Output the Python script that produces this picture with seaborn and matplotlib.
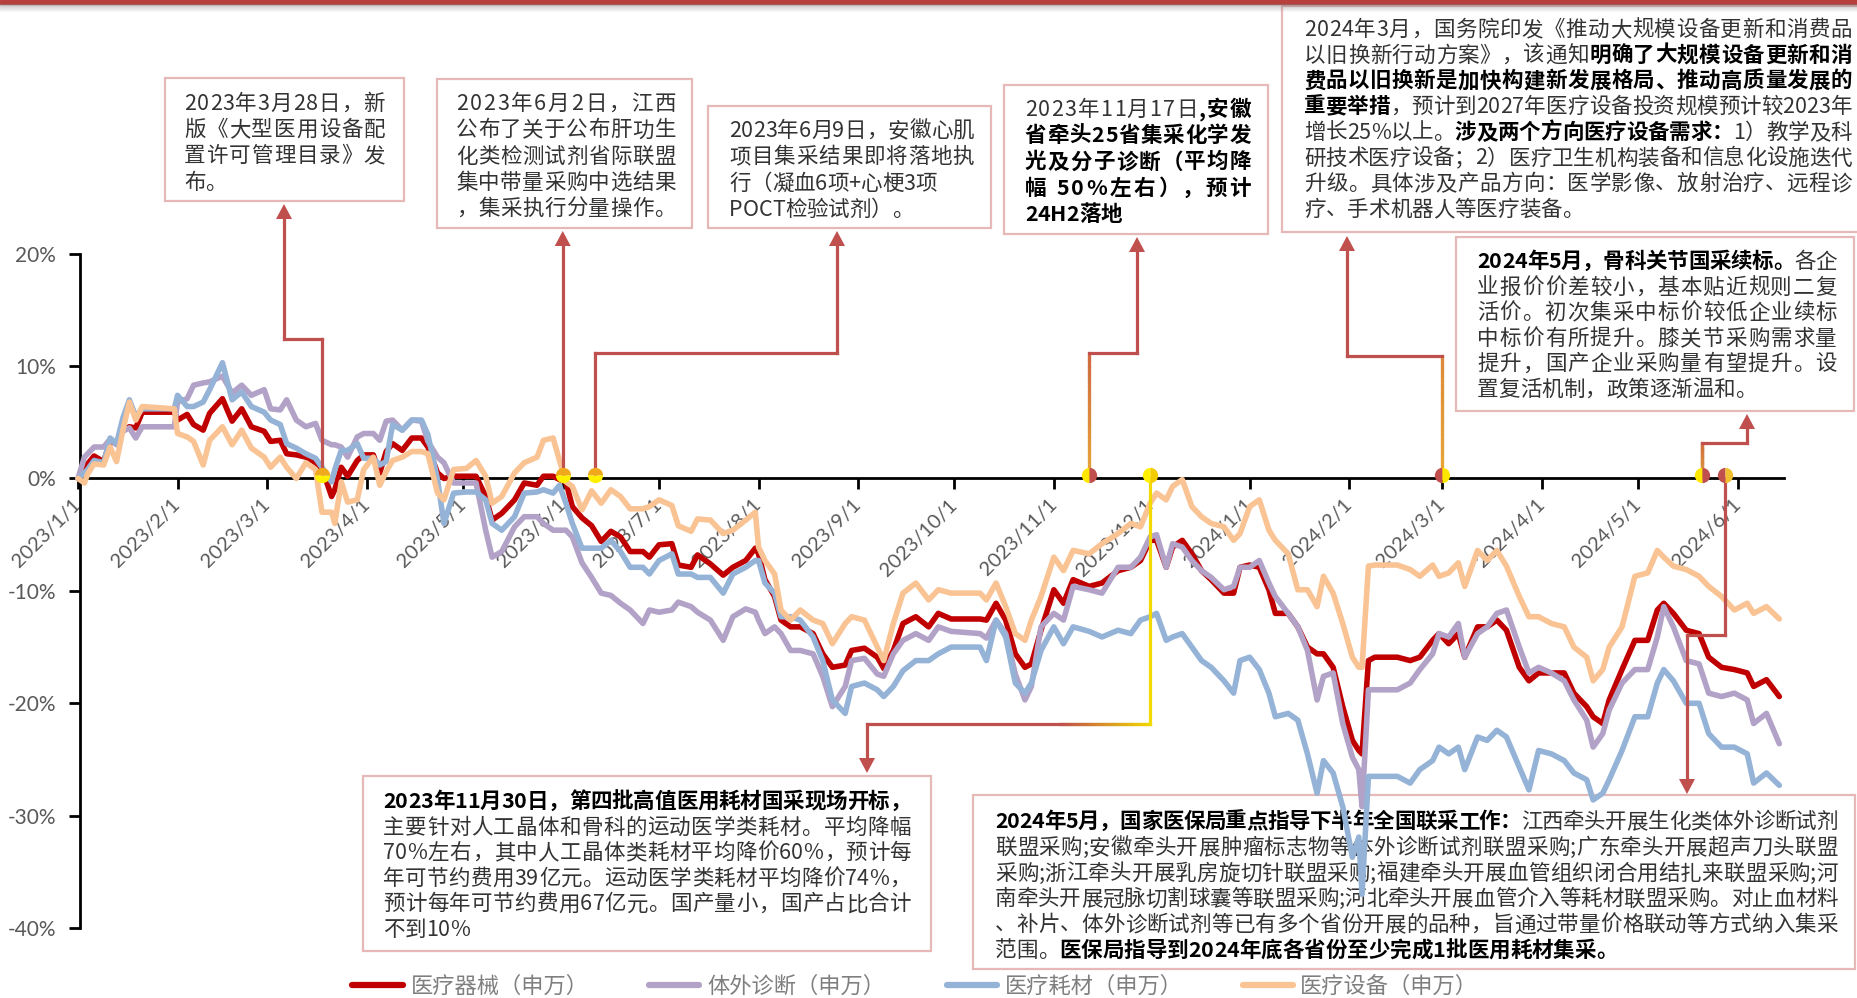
import numpy as np
import pandas as pd
import matplotlib
matplotlib.use("Agg")
import matplotlib.pyplot as plt
import matplotlib.dates as mdates
import matplotlib.transforms as mtransforms
from matplotlib.patches import Rectangle, Polygon
from matplotlib.collections import LineCollection
from matplotlib.font_manager import FontProperties
from matplotlib.colors import to_rgb
import seaborn as sns

# ---------------- data: cumulative change since 2023-01-01 (%) ----------------
day_offset = [0, 2, 3, 5, 8, 10, 12, 14, 16, 18, 20, 30, 31, 34, 36, 39, 41, 45, 48, 51,
              54, 58, 60, 63, 65, 68, 71, 74, 76, 79, 80, 82, 84, 87, 89, 92, 94, 96, 98, 101,
              104, 107, 109, 112, 114, 117, 121, 124, 127, 129, 132, 136, 139, 143, 145, 148, 150, 152, 154, 157,
              160, 163, 166, 169, 172, 176, 178, 181, 185, 187, 191, 193, 197, 201, 204, 208, 211, 212, 214, 217,
              219, 222, 225, 229, 232, 235, 239, 241, 245, 249, 251, 254, 257, 261, 265, 268, 272, 281, 283, 286,
              289, 292, 295, 297, 300, 304, 307, 310, 315, 319, 324, 328, 331, 334, 336, 339, 341, 344, 347, 350,
              353, 357, 360, 362, 365, 368, 371, 373, 377, 380, 383, 386, 388, 391, 394, 397, 399, 400, 402, 404,
              411, 415, 418, 422, 424, 427, 430, 432, 436, 439, 442, 445, 449, 452, 455, 459, 463, 466, 470, 472,
              475, 477, 481, 485, 489, 492, 494, 497, 501, 505, 508, 512, 516, 520, 522, 526, 530]

med_device = [0.0, 0.6, 1.3, 2.0, 1.5, 3.3, 3.1, 4.3, 4.6, 4.5, 5.9, 5.9, 5.2, 5.7, 4.8, 4.3, 5.8, 7.1, 5.1, 6.2,
              4.6, 4.2, 3.3, 3.4, 2.2, 2.1, 1.9, 1.4, 0.9, -1.6, -1.0, 1.0, 0.2, 1.6, 2.1, 2.1, 0.5, 2.4, 3.1, 2.5,
              3.6, 3.6, 2.8, 0.5, 0.0, 0.2, 0.2, 0.2, -1.6, -3.7, -3.1, -1.9, -0.4, -0.6, 0.2, 0.2, -0.1, -0.3, -2.5, -3.5,
              -4.2, -5.6, -4.7, -5.2, -6.5, -6.5, -7.0, -5.9, -5.8, -7.7, -7.9, -6.8, -7.6, -8.6, -7.9, -7.3, -6.2, -6.7, -9.0, -10.5,
              -12.6, -13.2, -13.2, -13.8, -15.6, -16.8, -16.6, -15.3, -15.1, -15.9, -16.9, -15.3, -12.9, -12.3, -13.2, -12.0, -12.5, -12.5, -12.6, -11.1,
              -12.6, -15.6, -16.8, -16.5, -13.5, -9.9, -11.1, -9.0, -9.6, -9.3, -8.2, -7.9, -7.3, -5.5, -5.5, -7.9, -6.1, -5.5, -6.7, -8.2,
              -9.0, -10.2, -10.2, -7.9, -7.7, -7.9, -9.9, -12.0, -12.0, -13.2, -15.0, -15.6, -15.6, -16.8, -20.3, -23.3, -24.2, -24.5, -16.2, -15.9,
              -15.9, -16.2, -15.9, -14.4, -13.8, -14.7, -13.8, -15.9, -13.2, -13.2, -12.6, -13.5, -16.8, -18.0, -17.3, -17.3, -17.3, -19.1, -20.3, -21.2,
              -21.8, -19.7, -17.0, -14.4, -14.4, -11.7, -11.1, -12.0, -13.5, -13.8, -15.9, -16.8, -17.0, -17.3, -18.5, -17.9, -19.4]

ivd = [0.0, 1.9, 2.2, 2.8, 2.8, 3.5, 3.0, 4.2, 4.5, 3.6, 4.6, 4.6, 6.8, 7.1, 8.3, 8.5, 8.6, 9.1, 7.6, 8.3,
       7.4, 7.9, 6.2, 6.1, 7.0, 5.2, 4.6, 4.9, 3.4, 3.0, 3.0, 2.8, 1.9, 3.7, 4.0, 4.0, 3.4, 5.1, 5.2, 4.3,
       5.2, 5.1, 3.3, 1.9, 1.4, -0.4, -0.4, -0.4, -4.6, -7.0, -6.5, -4.3, -3.4, -3.4, -4.0, -4.6, -4.6, -4.6, -5.2, -7.5,
       -8.8, -10.2, -10.4, -11.1, -11.7, -12.9, -11.7, -11.9, -11.7, -11.0, -11.4, -11.9, -12.6, -14.4, -12.3, -11.6, -11.9, -12.6, -13.8, -13.2,
       -13.8, -15.3, -15.3, -15.6, -17.6, -20.3, -18.5, -16.2, -16.0, -17.4, -17.6, -15.6, -14.4, -13.8, -14.4, -13.2, -13.6, -13.8, -14.2, -12.6,
       -13.8, -17.4, -19.7, -18.5, -13.2, -12.0, -12.6, -9.6, -9.9, -10.2, -7.9, -7.9, -7.0, -5.2, -5.0, -7.9, -5.8, -6.1, -7.3, -8.2,
       -8.8, -9.9, -9.6, -7.9, -7.9, -7.3, -9.3, -10.5, -12.0, -13.2, -15.3, -19.7, -17.6, -17.3, -21.8, -24.8, -25.9, -29.2, -18.8, -18.8,
       -18.8, -18.2, -17.0, -15.6, -13.8, -14.1, -12.9, -15.9, -13.8, -13.2, -12.0, -11.7, -15.0, -17.3, -16.8, -17.3, -18.0, -19.7, -21.5, -23.9,
       -22.7, -20.6, -18.2, -17.0, -17.0, -14.1, -11.4, -13.2, -16.2, -16.5, -19.1, -19.4, -19.1, -19.7, -21.8, -20.9, -23.6]

consumables = [0.0, 0.5, 0.8, 1.6, 1.4, 3.6, 3.1, 5.4, 7.0, 5.5, 6.2, 6.2, 7.4, 6.4, 6.4, 6.8, 7.9, 10.3, 7.0, 7.7,
               6.4, 5.9, 5.2, 4.8, 3.1, 2.7, 2.2, 1.8, 1.0, -0.3, 0.8, 2.5, 2.5, 3.1, 1.8, 1.8, 1.2, 1.5, 4.8, 4.3,
               5.2, 5.2, 3.9, -0.1, -4.0, -1.3, -1.2, -1.2, -1.9, -4.0, -4.6, -3.4, -1.3, -1.2, -1.0, -1.3, -0.6, -2.2, -4.0, -6.2,
               -6.2, -6.2, -5.5, -6.5, -7.9, -7.9, -8.5, -7.3, -6.7, -8.5, -8.5, -8.8, -8.8, -10.2, -8.5, -7.9, -7.3, -7.3, -9.3, -10.2,
               -12.3, -12.3, -12.6, -14.1, -16.2, -19.7, -20.9, -18.5, -18.2, -18.8, -19.4, -18.5, -17.1, -16.2, -16.2, -15.6, -15.0, -15.0, -16.2, -12.6,
               -14.1, -18.2, -19.1, -18.2, -15.3, -13.2, -14.7, -13.2, -13.6, -14.1, -13.5, -13.8, -12.6, -12.3, -12.0, -14.4, -14.1, -13.8, -15.0, -16.2,
               -16.8, -18.0, -19.1, -16.2, -15.9, -17.0, -19.1, -21.2, -20.9, -21.5, -24.5, -28.0, -25.1, -26.2, -29.2, -33.7, -31.9, -37.0, -26.5, -26.5,
               -26.5, -27.1, -25.9, -25.1, -23.9, -24.5, -23.9, -25.9, -23.0, -23.3, -22.4, -23.0, -25.7, -27.7, -24.2, -24.5, -25.1, -26.2, -26.8, -28.6,
               -28.0, -26.8, -24.2, -21.2, -21.2, -18.2, -17.0, -18.0, -20.0, -20.0, -22.7, -23.9, -23.9, -24.5, -27.1, -26.2, -27.3]

equipment = [0.0, -0.4, 0.4, 1.3, 1.2, 2.8, 1.5, 4.3, 6.8, 5.2, 6.4, 6.2, 4.0, 3.7, 3.3, 1.2, 3.4, 4.6, 3.0, 4.3,
             2.7, 1.9, 1.0, 1.9, 1.0, 0.0, 1.4, 0.8, -3.0, -3.0, -4.0, -0.3, -2.1, -1.9, 0.8, 1.9, -0.6, 0.6, 1.6, 1.9,
             2.4, 2.4, 2.2, -1.3, -1.9, 0.8, 0.9, 1.6, 0.2, -2.2, -1.6, 0.5, 1.4, 1.9, 3.4, 3.6, 1.6, -0.3, -0.7, -2.8,
             -1.1, -2.2, -1.0, -1.6, -2.7, -2.7, -2.5, -1.9, -2.4, -4.2, -4.7, -3.6, -3.7, -4.9, -4.6, -3.7, -3.0, -6.1, -7.3, -8.5,
             -11.7, -12.6, -11.7, -12.6, -12.9, -14.7, -12.9, -12.3, -12.6, -15.0, -16.2, -12.9, -10.2, -9.3, -10.8, -9.9, -10.2, -10.2, -10.8, -9.3,
             -11.4, -13.8, -14.4, -12.6, -10.5, -7.0, -8.2, -6.4, -6.7, -5.8, -4.9, -4.0, -4.3, -2.2, -1.3, -1.9, -0.7, -0.1, -2.5, -3.4,
             -4.0, -4.3, -5.5, -4.9, -2.5, -1.9, -4.6, -5.5, -6.7, -9.9, -9.9, -11.4, -8.7, -10.2, -12.9, -15.9, -16.8, -16.8, -7.8, -7.7,
             -7.7, -8.1, -8.7, -7.7, -8.7, -8.4, -7.5, -9.6, -6.4, -7.3, -6.4, -7.8, -10.5, -12.3, -12.3, -12.9, -13.2, -15.0, -15.9, -18.0,
             -17.0, -15.0, -13.2, -8.7, -8.4, -6.4, -7.0, -7.8, -8.1, -8.7, -9.6, -10.5, -11.7, -11.1, -12.0, -11.4, -12.5]

series_names = ["医疗器械（申万）", "体外诊断（申万）", "医疗耗材（申万）", "医疗设备（申万）"]
series_colors = ["#C00000", "#B3A2C7", "#95B3D7", "#F9C394"]
y_ticks = [-40, -30, -20, -10, 0, 10, 20]
# policy events marked on the zero line (days since 2023-01-01)
event_days = [76, 151, 161, 315, 334, 425, 506, 513]

# ---------------- figure ----------------
W, H = 1857, 998
sns.set_theme(style="white")
plt.rcParams["font.family"] = ["Noto Sans CJK SC", "DejaVu Sans"]

fig = plt.figure(figsize=(W / 100, H / 100), dpi=100)
ax = fig.add_axes([0, 0, 1, 1])
ax.set_facecolor("white")

base = pd.Timestamp("2023-01-01")
dates = base + pd.to_timedelta(day_offset, unit="D")
wide = pd.DataFrame({"date": dates, series_names[0]: med_device, series_names[1]: ivd,
                     series_names[2]: consumables, series_names[3]: equipment})
long = wide.melt(id_vars="date", var_name="series", value_name="pct")
sns.lineplot(data=long, x="date", y="pct", hue="series", hue_order=series_names,
             palette=dict(zip(series_names, series_colors)), linewidth=4.0,
             legend=False, ax=ax, estimator=None, sort=False, zorder=2)

n0 = mdates.date2num(base)
ax.set_xlim(n0 - 24.3, n0 + 554.2)
ax.set_ylim(-46.22, 42.57)
ax.set_autoscale_on(False)
ax.set_xlabel("")
ax.set_ylabel("")
ax.grid(False)

for s in ["top", "right"]:
    ax.spines[s].set_visible(False)
ax.spines["left"].set_position(("data", n0 + 0.6))
ax.spines["left"].set_bounds(-40, 20)
ax.spines["bottom"].set_position(("data", 0))
ax.spines["bottom"].set_bounds(n0 + 0.6, n0 + 531.5)
for s in ["left", "bottom"]:
    ax.spines[s].set_color("black")
    ax.spines[s].set_linewidth(2)
    ax.spines[s].set_zorder(1.5)

ax.set_yticks(y_ticks)
ax.set_yticklabels([f"{v}%" for v in y_ticks])
ax.tick_params(axis="y", left=True, direction="out", length=8, width=2, color="black",
               labelsize=15, labelcolor="#595959", pad=9)
month_starts = pd.date_range("2023-01-01", "2024-06-01", freq="MS")
ax.set_xticks(mdates.date2num(month_starts))
ax.set_xticklabels([f"{d.year}/{d.month}/{d.day}" for d in month_starts],
                   rotation=45, ha="right", va="center", rotation_mode="anchor")
ax.tick_params(axis="x", bottom=True, direction="out", length=8, width=2, color="black",
               labelsize=14.5, labelcolor="#595959", pad=9)
for lab in ax.get_xticklabels() + ax.get_yticklabels():
    lab.set_fontfamily(["Lato", "DejaVu Sans"])

# pixel-space transform (origin top-left)
PX = mtransforms.Affine2D().scale(1.0 / W, -1.0 / H).translate(0, 1) + fig.transFigure

def px_x(day):
    return ax.transData.transform((n0 + day, 0))[0]

RED = "#C0504D"

# ---------------- header bar ----------------
ax.add_patch(Rectangle((0, 0), W, 4, transform=PX, color="#B8403C", zorder=10, clip_on=False))
for i in range(8):
    ax.add_patch(Rectangle((0, 4 + i), W, 1, transform=PX, color=(0.5, 0.5, 0.5),
                           alpha=0.45 * (1 - i / 8), lw=0, zorder=10, clip_on=False))

# ---------------- connectors ----------------
def seg(p0, p1, color, z=4):
    ax.plot([p0[0], p1[0]], [p0[1], p1[1]], transform=PX, color=color, lw=2.3,
            solid_capstyle="projecting", zorder=z, clip_on=False)

def grad_seg(p0, p1, c0, c1, n=30, z=4):
    xs = np.linspace(p0[0], p1[0], n + 1)
    ys = np.linspace(p0[1], p1[1], n + 1)
    segs = [[(xs[i], ys[i]), (xs[i + 1], ys[i + 1])] for i in range(n)]
    a, b = np.array(to_rgb(c0)), np.array(to_rgb(c1))
    cols = [tuple(a + (b - a) * (i + 0.5) / n) for i in range(n)]
    lc = LineCollection(segs, colors=cols, linewidths=2.3, transform=PX, zorder=z,
                        capstyle="projecting")
    lc.set_clip_on(False)
    ax.add_collection(lc)

def head(x, y, up=True, z=5):
    d = 15 if up else -15
    ax.add_patch(Polygon([(x, y), (x - 8, y + d), (x + 8, y + d)], closed=True,
                         transform=PX, color=RED, lw=0, zorder=z, clip_on=False))

ex = [px_x(d) for d in event_days]
Y0 = 478.5
# 1
seg((ex[0], Y0), (ex[0], 339), RED); seg((ex[0], 339), (284, 339), RED)
seg((284, 339), (284, 218), RED); head(284, 204)
# 2
seg((ex[1], Y0), (ex[1], 245), RED); head(ex[1], 231)
# 3
seg((ex[2], Y0), (ex[2], 353), RED); seg((ex[2], 353), (837, 353), RED)
seg((837, 353), (837, 245), RED); head(837, 231)
# 4
grad_seg((ex[3], Y0), (ex[3], 353), "#E8A838", "#D06A42")
seg((ex[3], 353), (1137, 353), RED); seg((1137, 353), (1137, 251), RED); head(1137, 237)
# 5
seg((ex[4], Y0), (ex[4], 724), "#F2DA00")
grad_seg((ex[4], 724), (ex[4] - 90, 724), "#F2DA00", RED)
seg((ex[4] - 90, 724), (867, 724), RED); seg((867, 724), (867, 758), RED); head(867, 773, up=False)
# 6
grad_seg((ex[5], Y0), (ex[5], 356), "#E8A838", "#DC8A3A")
seg((ex[5], 356), (1347, 356), RED); seg((1347, 356), (1347, 250), RED); head(1347, 236)
# 7
grad_seg((ex[6], Y0), (ex[6], 443), "#E0A040", "#D0703F")
seg((ex[6], 443), (1747, 443), RED); seg((1747, 443), (1747, 428), RED); head(1747, 414)
# 8
seg((ex[7], Y0), (ex[7], 635), RED); seg((ex[7], 635), (1687, 635), RED)
seg((1687, 635), (1687, 779), RED); head(1687, 794, up=False)

# event dots
dot_style = [("top", "#F0A81C", "#FFF000"), ("top", "#F0A81C", "#FFF000"),
             ("top", "#F0A81C", "#FFF000"), ("left", "#FFE800", RED),
             ("left", "#FFF000", "#F2CC00"), ("left", RED, "#FFE800"),
             ("left", "#FFE800", RED), ("left", RED, "#F0C030")]
for d, (fs, fc, fca) in zip(event_days, dot_style):
    ax.plot([n0 + d], [0.3], marker="o", ms=11, fillstyle=fs, markerfacecolor=fc,
            markerfacecoloralt=fca, markeredgewidth=0, zorder=6, clip_on=False)

# ---------------- text boxes ----------------
renderer = fig.canvas.get_renderer()
FS = 15.5
_fp = {}
def font(bold, size=FS):
    key = (bold, size)
    if key not in _fp:
        _fp[key] = FontProperties(family=["Noto Sans CJK SC", "DejaVu Sans"],
                                  weight="bold" if bold else "normal", size=size)
    return _fp[key]

_adv = {}
def advance(ch, bold, size=FS):
    key = (ch, bold, size)
    if key not in _adv:
        fp = font(bold, size)
        a = renderer.get_text_width_height_descent("国" + ch + "国", fp, ismath=False)[0]
        b = renderer.get_text_width_height_descent("国国", fp, ismath=False)[0]
        _adv[key] = a - b
    return _adv[key]

def draw_line(runs, x0, x1, y, z=7, size=FS):
    chars = [(c, b) for t, b in runs for c in t]
    ws = [advance(c, b, size) for c, b in chars]
    natural = sum(ws)
    gap = 0.0
    if len(chars) > 1 and natural > 0.85 * (x1 - x0):
        gap = (x1 - x0 - natural) / (len(chars) - 1)
    x = x0
    for (c, b), w in zip(chars, ws):
        ax.text(x, y, c, transform=PX, fontproperties=font(b, size),
                color="#000000" if b else "#333333", ha="left", va="baseline",
                zorder=z, clip_on=False)
        x += w + gap

def text_box(rect, left, right, top_center, spacing, lines, fill=True, z=7):
    x0, y0, x1, y1 = rect
    ax.add_patch(Rectangle((x0, y0), x1 - x0, y1 - y0, transform=PX,
                           facecolor="white" if fill else "none", edgecolor="#E6B9B8",
                           lw=1.6, zorder=z - 0.5 if fill else 1.8, clip_on=False))
    for i, runs in enumerate(lines):
        draw_line(runs, left, right, top_center + i * spacing + 8, z=z)

R, B = False, True
text_box((165, 78, 404, 201), 184, 385, 102, 26.2, [
    [("2023年3月28日，新", R)],
    [("版《大型医用设备配", R)],
    [("置许可管理目录》发", R)],
    [("布。", R)]])

text_box((437, 79, 692, 228), 456, 676, 102, 26.3, [
    [("2023年6月2日，江西", R)],
    [("公布了关于公布肝功生", R)],
    [("化类检测试剂省际联盟", R)],
    [("集中带量采购中选结果", R)],
    [("，集采执行分量操作。", R)]])

text_box((708, 106, 991, 228), 729, 974, 129, 26.3, [
    [("2023年6月9日，安徽心肌", R)],
    [("项目集采结果即将落地执", R)],
    [("行（凝血6项+心梗3项", R)],
    [("POCT检验试剂）。", R)]])

text_box((1004, 85, 1268, 234), 1025, 1251, 108, 26.2, [
    [("2023年11月17日", R), (",安徽", B)],
    [("省牵头25省集采化学发", B)],
    [("光及分子诊断（平均降", B)],
    [("幅 50%左右），预计", B)],
    [("24H2落地", B)]])

text_box((1282, 6, 1862, 232), 1304, 1852, 28, 25.7, [
    [("2024年3月，国务院印发《推动大规模设备更新和消费品", R)],
    [("以旧换新行动方案》，该通知", R), ("明确了大规模设备更新和消", B)],
    [("费品以旧换新是加快构建新发展格局、推动高质量发展的", B)],
    [("重要举措", B), ("，预计到2027年医疗设备投资规模预计较2023年", R)],
    [("增长25%以上。", R), ("涉及两个方向医疗设备需求：", B), ("1）教学及科", R)],
    [("研技术医疗设备；2）医疗卫生机构装备和信息化设施迭代", R)],
    [("升级。具体涉及产品方向：医学影像、放射治疗、远程诊", R)],
    [("疗、手术机器人等医疗装备。", R)]])

text_box((1456, 237, 1854, 411), 1477, 1837, 260, 25.6, [
    [("2024年5月，骨科关节国采续标。", B), ("各企", R)],
    [("业报价价差较小，基本贴近规则二复", R)],
    [("活价。初次集采中标价较低企业续标", R)],
    [("中标价有所提升。膝关节采购需求量", R)],
    [("提升，国产企业采购量有望提升。设", R)],
    [("置复活机制，政策逐渐温和。", R)]])

text_box((363, 776, 931, 951), 383, 911, 800, 25.6, [
    [("2023年11月30日，第四批高值医用耗材国采现场开标，", B)],
    [("主要针对人工晶体和骨科的运动医学类耗材。平均降幅", R)],
    [("70%左右，其中人工晶体类耗材平均降价60%，预计每", R)],
    [("年可节约费用39亿元。运动医学类耗材平均降价74%，", R)],
    [("预计每年可节约费用67亿元。国产量小，国产占比合计", R)],
    [("不到10%", R)]])

text_box((973, 795, 1855, 969), 995, 1838, 820, 25.8, [
    [("2024年5月，国家医保局重点指导下半年全国联采工作：", B), ("江西牵头开展生化类体外诊断试剂", R)],
    [("联盟采购;安徽牵头开展肿瘤标志物等体外诊断试剂联盟采购;广东牵头开展超声刀头联盟", R)],
    [("采购;浙江牵头开展乳房旋切针联盟采购;福建牵头开展血管组织闭合用结扎来联盟采购;河", R)],
    [("南牵头开展冠脉切割球囊等联盟采购;河北牵头开展血管介入等耗材联盟采购。对止血材料", R)],
    [("、补片、体外诊断试剂等已有多个省份开展的品种，旨通过带量价格联动等方式纳入集采", R)],
    [("范围。", R), ("医保局指导到2024年底各省份至少完成1批医用耗材集采。", B)]],
    fill=False, z=1.9)

# ---------------- legend ----------------
leg_x = [(352, 403, 411), (649, 699, 707), (947, 997, 1005), (1243, 1293, 1300)]
for (a, b, t), name, col in zip(leg_x, series_names, series_colors):
    ax.plot([a, b], [985, 985], transform=PX, color=col, lw=4.5, solid_capstyle="round",
            zorder=7, clip_on=False)
    ax.text(t, 993, name, transform=PX, fontproperties=font(False, 16), color="#7F7F7F",
            ha="left", va="baseline", zorder=7, clip_on=False)

fig.savefig("out.png", dpi=100)
